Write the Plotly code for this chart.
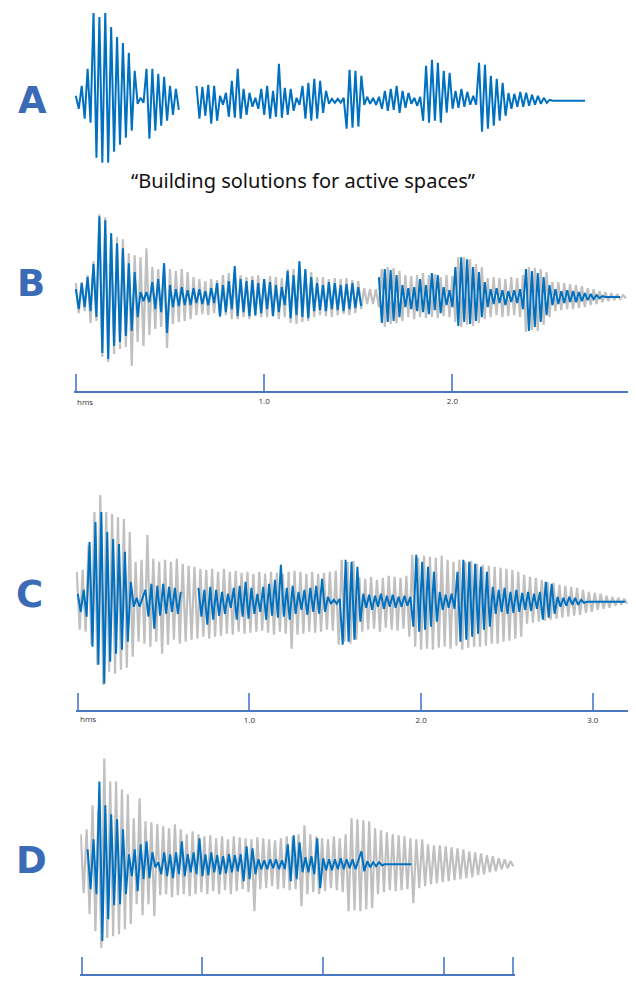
import numpy as np
import plotly.graph_objects as go

# ---------------- data (amplitude, arbitrary units; time in seconds) ----------------
A_blue = [5, -8, 15, -18, 32, -22, 89, -57, 84, -62, 89, -62, 74, -51, 64, -44, 58, -37, 48, -30,
          30, -3, 3, -2, 32, -38, 32, -30, 27, -25, 24, -20, 15, -14, 12, -9,
          None, None, None, None, None,
          15, -18, 14, -15, 16, -23, 15, -20, 5, -4, 8, -16, 20, -17, 32, -18, 12, -14, 8,
          -6, 3, -8, 12, -14, 15, -18, 10, -16, 37, -17, 13, -14, 12, -10, 3, -4, 15, -18, 18,
          -20, 22, -18, 20, -12, 10, -3, 2, -2, 2, -2, 3, -28, 31, -27, 30, -26, 25, -4, 4,
          -3, 3, -4, 4, -8, 10, -10, 12, -9, 15, -12, 10, -7, 8, -3, 3, -5, 4, -20, 35,
          -22, 41, -20, 38, -22, 30, -12, 28, -8, 10, -7, 12, -6, 9, -4, 5, -4, 38, -31, 36,
          -28, 25, -25, 22, -20, 18, -15, 8, -8, 7, -6, 9, -6, 8, -5, 6, -4, 5, -3, 3,
          -2, 1, 0, 0, 0, 0, 0, 0, 0, 0, 0, 0, 0, 0]
A_time = [0.0, 2.70]

B_gray = [14, -16, 15, -14, 22, -26, 36, -24, 83, -60, 80, -65, 64, -57, 60, -52, 58, -50, 44, -69,
          42, -45, 40, -49, 49, -38, 30, -32, 28, -30, 32, -51, 28, -27, 26, -25, 28, -24, 25, -22,
          20, -18, 18, -17, 16, -18, 18, -16, 17, -20, 22, -18, 24, -22, 20, -22, 22, -20, 20, -22,
          21, -19, 22, -20, 18, -20, 21, -19, 20, -22, 19, -20, 28, -26, 28, -27, 30, -25, 26, -24,
          25, -20, 20, -18, 20, -19, 18, -20, 19, -18, 18, -17, 19, -18, 17, -16, 16, -12, 9, -7,
          8, -7, 8, -10, 28, -30, 30, -27, 29, -26, 26, -24, 22, -20, 21, -22, 22, -20, 24, -21,
          22, -20, 23, -21, 20, -19, 22, -20, 21, -25, 40, -30, 40, -28, 38, -29, 33, -26, 30, -22,
          19, -20, 20, -18, 19, -20, 18, -19, 20, -18, 19, -20, 22, -35, 30, -33, 29, -34, 28, -28,
          25, -20, 15, -14, 15, -13, 14, -12, 13, -12, 12, -11, 11, -10, 9, -8, 8, -7, 6, -5,
          5, -4, 4, -3, 3, -2, 2, -1]
B_gray_time = [0.0, 2.922]
B_blue = [8, -12, 14, -10, 20, -14, 33, -20, 81, -56, 77, -62, 64, -49, 54, -45, 49, -39, 34, -34,
          25, -20, 5, -4, 5, -5, 15, -12, 18, -15, 34, -36, 12, -10, 8, -9, 10, -8, 7, -8,
          9, -6, 8, -7, 6, -8, 9, -6, 14, -19, 12, -15, 16, -12, 31, -19, 18, -15, 16, -19,
          17, -18, 14, -16, 18, -12, 15, -19, 12, -15, 10, -8, 26, -21, 22, -18, 36, -20, 28, -21,
          20, -14, 14, -13, 12, -14, 15, -12, 14, -13, 12, -14, 13, -12, 14, -11, 10, -9,
          None, None, None, None, None,
          20, -26, 28, -25, 27, -24, 22, -20, 12, -10, 9, -12, 10, -14, 18, -15, 12, -17, 24, -13,
          22, -16, 10, -8, 7, -10, 30, -29, 40, -25, 38, -27, 30, -24, 25, -20, 15, -10, 8, -7,
          9, -6, 7, -8, 6, -5, 7, -6, 8, -12, 28, -34, 26, -30, 24, -25, 20, -18, 12, -8,
          8, -7, 6, -6, 7, -5, 6, -5, 5, -4, 4, -3, 3, -2, 2, -1, 1, 0, 0, 0, 0, 0, 0]
B_blue_time = [0.0, 2.891]

C_gray = [30, -28, 32, -30, 57, -43, 90, -63, 107, -83, 90, -70, 88, -72, 85, -68, 83, -66, 70, -55,
          40, -40, 42, -42, 67, -45, 43, -40, 40, -52, 42, -43, 40, -38, 43, -42, 38, -40, 36, -38,
          35, -37, 33, -35, 32, -37, 33, -35, 30, -34, 33, -32, 30, -33, 31, -30, 29, -32, 30, -31,
          28, -30, 30, -29, 28, -31, 30, -33, 29, -30, 28, -32, 30, -47, 31, -33, 30, -32, 28, -30,
          30, -31, 28, -30, 29, -28, 30, -29, 31, -43, 42, -40, 40, -42, 41, -38, 25, -30, 23, -28,
          25, -27, 22, -30, 24, -26, 26, -28, 25, -29, 24, -27, 26, -35, 47, -45, 44, -48, 46, -47,
          45, -48, 44, -46, 46, -45, 42, -47, 40, -44, 42, -48, 40, -46, 41, -45, 38, -45, 37, -44,
          36, -42, 35, -42, 34, -40, 33, -39, 32, -37, 30, -35, 27, -22, 25, -21, 24, -20, 22, -19,
          20, -18, 19, -17, 17, -16, 16, -15, 15, -14, 14, -13, 12, -11, 10, -10, 9, -8, 8, -7,
          6, -6, 5, -4, 4, -3, 3, -2]
C_gray_time = [-0.006, 3.200]
C_blue = [8, -10, 12, -15, 60, -45, 80, -63, 90, -82, 70, -60, 63, -52, 58, -48, 50, -40, 20, -5,
          4, -5, 4, 12, -15, 18, -27, 16, -14, 18, -12, 15, -10, 14, -12, 10,
          None, None, None, None, None,
          14, -15, 12, -23, 15, -18, 12, -14, 10, -12, 8, -6, 14, -18, 16, -15, 20, -17, 14, -12,
          8, -10, 15, -18, 18, -14, 22, -16, 37, -15, 14, -18, 16, -12, 10, -8, 12, -13, 14, -10,
          16, -12, 23, -10, 5, -2, 2, -2, 3, -43, 42, -40, 40, -38, 35, -20, 8, -6, 7, -8,
          6, -5, 8, -7, 6, -5, 7, -6, 5, -5, 6, -4, 5, -25, 47, -30, 40, -28, 35, -25,
          30, -20, 10, -8, 7, -6, 8, -7, 30, -40, 42, -38, 40, -35, 38, -32, 35, -28, 30, -25,
          15, -12, 12, -10, 14, -12, 10, -11, 12, -10, 9, -8, 10, -9, 8, -7, 10, -18, 20, -16,
          18, -12, 5, -5, 4, -4, 5, -3, 4, -3, 2, -1, 0, 0, 0, 0, 0, 0, 0, 0, 0, 0, 0, 0, 0, 0]
C_blue_time = [0.0, 3.189]

D_gray = [30, -29, 35, -50, 59, -67, 55, -84, 106, -74, 83, -72, 83, -70, 75, -65, 70, -60, 46, -40,
          66, -51, 43, -40, 42, -52, 40, -31, 38, -30, 36, -33, 40, -31, 35, -30, 30, -32, 33, -30,
          30, -28, 28, -30, 29, -27, 26, -30, 28, -26, 25, -30, 28, -27, 27, -25, 26, -28, 25, -47,
          27, -25, 26, -24, 25, -22, 24, -25, 26, -24, 28, -26, 27, -25, 30, -42, 39, -30, 30, -28,
          28, -30, 26, -27, 25, -24, 28, -26, 26, -28, 30, -47, 46, -46, 45, -47, 44, -45, 43, -44,
          36, -30, 34, -28, 32, -26, 30, -27, 29, -26, 28, -25, 26, -39, 25, -24, 25, -22, 20, -20,
          19, -19, 19, -18, 18, -17, 17, -16, 16, -15, 15, -14, 13, -13, 12, -11, 11, -10, 9, -8,
          8, -7, 6, -5, 5, -4, 3, -2]
D_gray_time = [-0.008, 3.577]
D_blue = [15, -25, 25, -30, 83, -77, 59, -55, 50, -41, 45, -40, 35, -30, 10, -12, 15, -27, 20, -15,
          23, -14, 12, -3, 2, -10, 12, -12, 10, -14, 12, -10, 23, -12, 10, -8, 12, -10, 26, -12,
          10, -11, 12, -8, 9, -10, 8, -9, 10, -8, 9, -7, 10, -17, 18, -15, 16, -10, 5, -5,
          4, -5, 5, -4, 5, -5, 4, -5, 20, -17, 29, -15, 22, -8, 7, -8, 8, -10, 26, -24,
          6, -6, 5, -6, 5, -5, 6, -5, 5, -4, 5, -5, 4, 13, -7, 3, -3, 2, -2, 2,
          -1, 0, 0, 0, 0, 0, 0, 0, 0, 0, 0]
D_blue_time = [0.049, 2.732]

B_ticks = [0, 1, 2]
B_ticktext = ["", "1.0", "2.0"]
C_ticks = [0, 1, 2, 3]
C_ticktext = ["", "1.0", "2.0", "3.0"]
D_ticks = [0, 1, 2, 3, 3.577]
D_ticktext = ["hms", "1.0", "2.0", "3.0", "3.5"]
panel_letters = ["A", "B", "C", "D"]
caption = "\u201cBuilding solutions for active spaces\u201d"

# ---------------- styling ----------------
W, H = 636, 982
OFF = 8  # default page margin around the plot div
BLUE = "#0070C0"
GRAY = "#C0C0C0"
AXIS = "#4A76C2"
TICK = "#6F91D2"
LETTER = "#3B6BB6"
EPS = 0.012  # small pad so edge ticks are drawn


def px(x):
    return min(1.0, (x - OFF) / W)


def py(y):
    return 1 - (y - OFF) / H


def times(span, vals):
    return np.linspace(span[0], span[1], len(vals))


fig = go.Figure()


def add(vals, span, color, width, ax):
    fig.add_trace(go.Scatter(x=times(span, vals), y=vals, mode="lines",
                             line=dict(color=color, width=width), connectgaps=False,
                             hoverinfo="skip", showlegend=False,
                             xaxis="x" + ax, yaxis="y" + ax))


add(A_blue, A_time, BLUE, 2, "")
add(B_gray, B_gray_time, GRAY, 2.2, "2")
add(B_blue, B_blue_time, BLUE, 2, "2")
add(C_gray, C_gray_time, GRAY, 2.2, "3")
add(C_blue, C_blue_time, BLUE, 2, "3")
add(D_gray, D_gray_time, GRAY, 2.2, "4")
add(D_blue, D_blue_time, BLUE, 2, "4")

tickfont = dict(family="Open Sans, Arial", size=8, color="#333333")


def xax(x0, x1, pxs, t1, tv=None, tt=None, anchor="y", visible=True):
    # x0/x1: pixel extent of the time axis, pxs: pixels per second
    pad = EPS * pxs
    d = dict(domain=[px(x0 - pad), px(x1 + pad)], range=[-EPS, t1 + EPS], anchor=anchor,
             showgrid=False, zeroline=False, fixedrange=True)
    if not visible:
        d.update(visible=False)
        return d
    d.update(showline=True, linecolor=AXIS, linewidth=2, ticks="inside", ticklen=17,
             tickwidth=1.6, tickcolor=TICK, tickvals=tv, ticktext=tt, tickfont=tickfont,
             ticklabelstandoff=2)
    return d


def yax(top, bottom, center):
    return dict(domain=[py(bottom), py(top)], range=[-(bottom - center), center - top],
                visible=False, fixedrange=True)


fig.update_layout(
    width=W, height=H, margin=dict(l=0, r=0, t=0, b=0), autosize=False,
    paper_bgcolor="white", plot_bgcolor="rgba(0,0,0,0)",
    xaxis=xax(70, 589, 192, 2.70, anchor="y", visible=False),
    yaxis=yax(5 + OFF, 170, 101),
    xaxis2=xax(70, 642, 192, 572 / 192, B_ticks, B_ticktext, anchor="y2"),
    yaxis2=yax(205, 391.5, 297.7),
    xaxis3=xax(72, 642, 175, 570 / 175, C_ticks, C_ticktext, anchor="y3"),
    yaxis3=yax(485, 711, 603),
    xaxis4=xax(76, 516, 123, 3.577, D_ticks, D_ticktext, anchor="y4"),
    yaxis4=yax(750, 976, 866),
)

ann = []
for letter, (lx, ly) in zip(panel_letters, [(26, 101), (24, 284), (23, 596), (25, 862)]):
    ann.append(dict(x=px(lx), y=py(ly), xref="paper", yref="paper", text="<b>%s</b>" % letter,
                    showarrow=False, xanchor="center", yanchor="middle",
                    font=dict(family="DejaVu Sans", size=37, color=LETTER)))
ann.append(dict(x=px(302), y=py(181), xref="paper", yref="paper", text=caption,
                showarrow=False, xanchor="center", yanchor="middle",
                font=dict(family="Noto Sans", size=20, color="#111111")))
for (hx, hy) in [(69, 402), (72, 720)]:
    ann.append(dict(x=px(hx), y=py(hy), xref="paper", yref="paper", text="hms",
                    showarrow=False, xanchor="left", yanchor="middle", font=tickfont))
fig.update_layout(annotations=ann)

fig.write_html("out.html")
